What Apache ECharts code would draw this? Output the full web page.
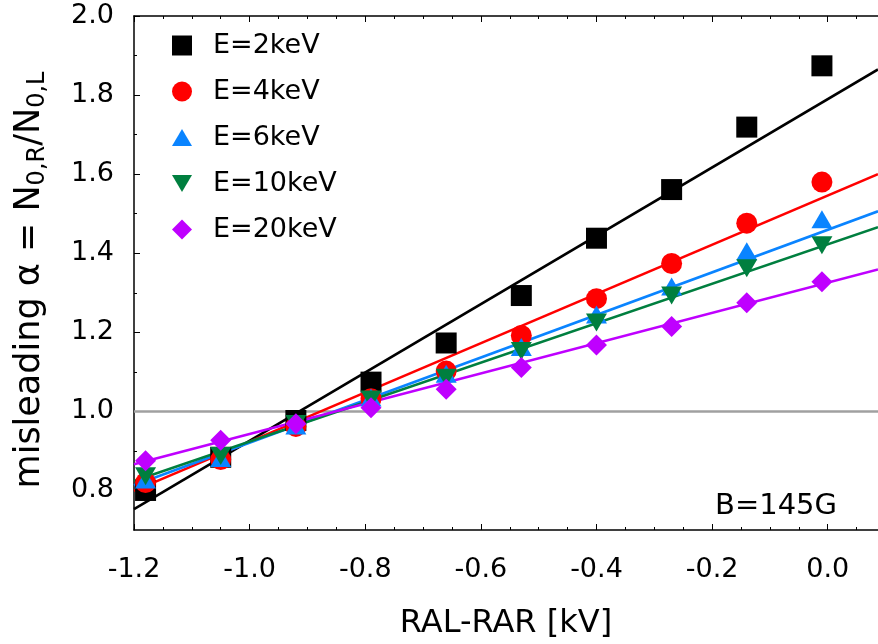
<!DOCTYPE html>
<html>
<head>
<meta charset="utf-8">
<script src="https://cdn.jsdelivr.net/npm/echarts@6/dist/echarts.min.js"></script>
<style>
  html, body { margin: 0; padding: 0; background: #fff; }
  #chart { width: 878px; height: 644px; }
</style>
</head>
<body>
<div id="chart"></div>
<script>
// ── Data ────────────────────────────────────────────────────────────────────
const xVals = [-1.18, -1.05, -0.92, -0.79, -0.66, -0.53, -0.40, -0.27, -0.14, -0.01];

const e2  = [0.800, 0.884, 0.977, 1.074, 1.173, 1.293, 1.438, 1.561, 1.719, 1.874];
const e4  = [0.820, 0.878, 0.962, 1.032, 1.102, 1.192, 1.285, 1.374, 1.476, 1.580];
const e6  = [0.828, 0.882, 0.964, 1.035, 1.095, 1.163, 1.245, 1.316, 1.405, 1.486];
const e10 = [0.836, 0.887, 0.968, 1.030, 1.085, 1.153, 1.225, 1.293, 1.362, 1.420];
const e20 = [0.875, 0.927, 0.969, 1.009, 1.056, 1.111, 1.168, 1.215, 1.275, 1.328];

// fitted straight lines: value at left and right edge of the plot
const fitX   = [-1.2, 0.087];
const fit2   = [0.753, 1.865];
const fit4   = [0.799, 1.600];
const fit6   = [0.813, 1.506];
const fit10  = [0.824, 1.466];
const fit20  = [0.866, 1.359];
const refY   = [1.0, 1.0];

const names  = ['E=2keV', 'E=4keV', 'E=6keV', 'E=10keV', 'E=20keV'];

const xTicksMajor = [-1.2, -1.0, -0.8, -0.6, -0.4, -0.2, 0.0];
const xTicksMinor = [-1.15, -1.1, -1.05, -0.95, -0.9, -0.85, -0.75, -0.7, -0.65,
                     -0.55, -0.5, -0.45, -0.35, -0.3, -0.25, -0.15, -0.1, -0.05, 0.05];
const yTicksMajor = [0.8, 1.0, 1.2, 1.4, 1.6, 1.8, 2.0];
const yTicksMinor = [0.9, 1.1, 1.3, 1.5, 1.7, 1.9];

const X_MIN = -1.2, X_MAX = 0.087, Y_MIN = 0.7, Y_MAX = 2.0;
const FONT = 'DejaVu Sans';

const pairs = (xs, ys) => xs.map((x, i) => [x, ys[i]]);

// ── Axes ────────────────────────────────────────────────────────────────────
const axisBase = (pos, ticks, len, showLine) => ({
    type: 'value', position: pos, min: X_MIN, max: X_MAX,
    axisLine: { show: showLine, onZero: false, lineStyle: { color: '#000', width: 1.5 } },
    axisTick: { show: true, inside: true, length: len, customValues: ticks,
                lineStyle: { color: '#000', width: 1 } },
    axisLabel: { show: false },
    splitLine: { show: false }
});

const xAxes = [
    Object.assign(axisBase('bottom', xTicksMajor, 6, true), {
        axisLabel: {
            show: true, customValues: xTicksMajor, margin: 26,
            color: '#000', fontSize: 27, fontFamily: FONT,
            formatter: v => v.toFixed(1)
        },
        name: 'RAL-RAR [kV]', nameLocation: 'middle', nameGap: 78,
        nameTextStyle: { color: '#000', fontSize: 32, fontFamily: FONT }
    }),
    axisBase('bottom', xTicksMinor, 3, false),
    axisBase('top', xTicksMajor, 6, true),
    axisBase('top', xTicksMinor, 3, false)
];

const yAxes = [
    {
        type: 'value', position: 'left', min: Y_MIN, max: Y_MAX,
        axisLine: { show: true, onZero: false, lineStyle: { color: '#000', width: 1.5 } },
        axisTick: { show: true, inside: true, length: 6, customValues: yTicksMajor,
                    lineStyle: { color: '#000', width: 1 } },
        axisLabel: {
            customValues: yTicksMajor, margin: 20,
            color: '#000', fontSize: 27, fontFamily: FONT,
            formatter: v => v.toFixed(1)
        },
        splitLine: { show: false },
        name: '{t|misleading α = N}{s|0,R}{t|/N}{s|0,L}',
        nameLocation: 'middle', nameGap: 84,
        nameTextStyle: {
            padding: [0, 14, 0, 0],
            rich: {
                t: { fontSize: 35, fontFamily: FONT, color: '#000' },
                s: { fontSize: 24, fontFamily: FONT, color: '#000', padding: [17, 0, 0, 0] }
            }
        }
    },
    {
        type: 'value', position: 'left', min: Y_MIN, max: Y_MAX,
        axisLine: { show: false, onZero: false },
        axisTick: { show: true, inside: true, length: 3, customValues: yTicksMinor,
                    lineStyle: { color: '#000', width: 1 } },
        axisLabel: { show: false },
        splitLine: { show: false }
    }
];

// ── Series ──────────────────────────────────────────────────────────────────
const colors  = ['#000000', '#ff0000', '#0a84ff', '#007f3f', '#bf00ff'];
const symbols = ['rect', 'circle', 'triangle', 'triangle', 'diamond'];
const sizes   = [21, 21, [21, 18], [21, 18], 21];
const rotates = [0, 0, 0, 180, 0];
const icons   = ['rect', 'circle', 'path://M1,0 L2,1.7 L0,1.7 Z', 'path://M0,0 L2,0 L1,1.7 Z', 'diamond'];
const values  = [e2, e4, e6, e10, e20];
const fits    = [fit2, fit4, fit6, fit10, fit20];

const series = [{
    name: 'ref', type: 'line', data: pairs(fitX, refY),
    showSymbol: false, silent: true, z: 1,
    lineStyle: { color: '#a0a0a0', width: 2.5 }
}];

fits.forEach((f, i) => {
    series.push({
        name: 'fit ' + names[i], type: 'line', data: pairs(fitX, f),
        showSymbol: false, silent: true, z: 2,
        lineStyle: { color: colors[i], width: 2.6 }
    });
});

values.forEach((v, i) => {
    series.push({
        name: names[i], type: 'scatter', data: pairs(xVals, v),
        symbol: symbols[i], symbolSize: sizes[i], symbolRotate: rotates[i],
        itemStyle: { color: colors[i], opacity: 1 }, z: 3 + i
    });
});

// ── Chart ───────────────────────────────────────────────────────────────────
const chart = echarts.init(document.getElementById('chart'), null, { renderer: 'canvas' });
chart.setOption({
    animation: false,
    backgroundColor: '#fff',
    textStyle: { fontFamily: FONT },
    grid: { left: 134, right: 0, top: 16, bottom: 114, containLabel: false, outerBoundsMode: 'none' },
    legend: {
        data: names.map((n, i) => ({ name: n, icon: icons[i] })),
        orient: 'vertical', left: 172, top: 32, padding: 0,
        itemWidth: 20, itemHeight: 20, itemGap: 19, align: 'left',
        textStyle: { color: '#000', fontSize: 27, fontFamily: FONT, lineHeight: 20,
                     padding: [0, 0, 0, 16] },
        selectedMode: false
    },
    graphic: [{
        type: 'text', x: 837, y: 506,
        style: {
            text: 'B=145G', fill: '#000', font: '29px "DejaVu Sans"',
            align: 'right', textAlign: 'right',
            verticalAlign: 'middle', textVerticalAlign: 'middle'
        }
    }],
    xAxis: xAxes,
    yAxis: yAxes,
    series: series
});
</script>
</body>
</html>
